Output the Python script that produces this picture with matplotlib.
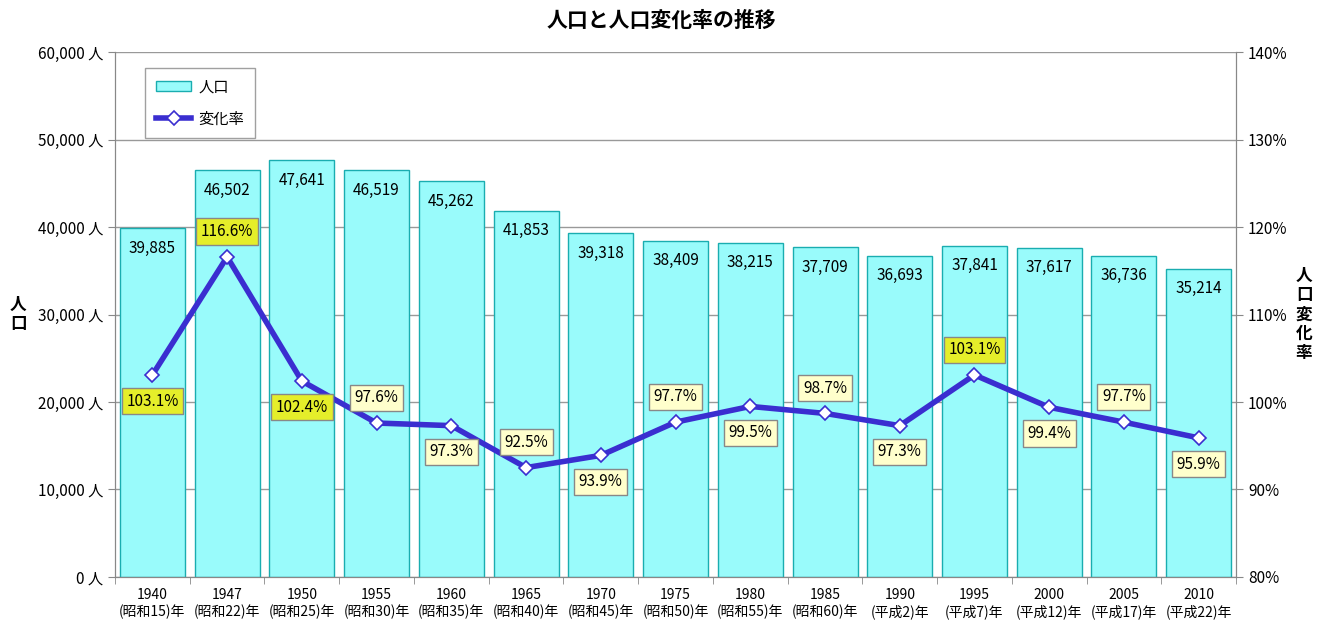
import matplotlib
matplotlib.use('Agg')
import matplotlib.pyplot as plt
import numpy as np

plt.rcParams['font.family'] = ['Noto Sans CJK JP', 'DejaVu Sans']

years = ['1940', '1947', '1950', '1955', '1960', '1965', '1970', '1975',
         '1980', '1985', '1990', '1995', '2000', '2005', '2010']
eras = ['(昭和15)年', '(昭和22)年', '(昭和25)年', '(昭和30)年', '(昭和35)年',
        '(昭和40)年', '(昭和45)年', '(昭和50)年', '(昭和55)年', '(昭和60)年',
        '(平成2)年', '(平成7)年', '(平成12)年', '(平成17)年', '(平成22)年']
population = [39885, 46502, 47641, 46519, 45262, 41853, 39318, 38409,
              38215, 37709, 36693, 37841, 37617, 36736, 35214]
rate = [103.1, 116.6, 102.4, 97.6, 97.3, 92.5, 93.9, 97.7,
        99.5, 98.7, 97.3, 103.1, 99.4, 97.7, 95.9]

x = np.arange(len(years))
fig = plt.figure(figsize=(13.22, 6.23), dpi=100)
ax = fig.add_axes([0.087, 0.074, 0.848, 0.842])
ax2 = ax.twinx()

bars = ax.bar(x, population, width=0.87, color='#99FBFB', edgecolor='#1AADB0',
              linewidth=1.0, label='人口', zorder=2)
ax.set_xlim(-0.5, len(years) - 0.5)
ax.set_ylim(0, 60000)
ax.set_yticks(np.arange(0, 60001, 10000))
ax.set_yticklabels([f'{v:,} 人' for v in range(0, 60001, 10000)], fontsize=11)
ax.yaxis.grid(True, color='#999999', linewidth=1.0, zorder=0)
ax.set_axisbelow(True)
ax.set_xticks(x)
ax.set_xticklabels([f'{y}\n{e}' for y, e in zip(years, eras)], fontsize=10)
ax.tick_params(axis='x', length=0, pad=8)
ax.set_xticks(np.arange(-0.5, len(years), 1), minor=True)
ax.tick_params(axis='x', which='minor', length=5, color='#888888', direction='out')
ax.tick_params(axis='y', length=5, color='#888888', direction='out')
for s in ['left', 'right', 'bottom', 'top']:
    ax.spines[s].set_color('#888888')
    ax2.spines[s].set_color('#888888')
ax.spines['top'].set_visible(False)
ax2.spines['top'].set_visible(False)
ax.set_ylabel('人\n口', rotation=0, fontsize=12, fontweight='bold',
              linespacing=1.1, labelpad=14, va='center')

for b, v in zip(bars, population):
    ax.text(b.get_x() + b.get_width() / 2, v - 1300, f'{v:,}', ha='center',
            va='top', fontsize=11, zorder=5)

ax2.plot(x, rate, color='#3A2ED0', linewidth=4, marker='D', markersize=7,
         markerfacecolor='white', markeredgecolor='#3A2ED0', markeredgewidth=1.2,
         label='変化率', zorder=4)
ax2.set_ylim(80, 140)
ax2.set_yticks(np.arange(80, 141, 10))
ax2.set_yticklabels([f'{v}%' for v in range(80, 141, 10)], fontsize=11)
ax2.tick_params(axis='y', length=5, color='#888888', direction='out')
ax2.set_ylabel('人\n口\n変\n化\n率', rotation=0, fontsize=12, fontweight='bold',
               linespacing=1.1, labelpad=12, va='center')

for i, r in enumerate(rate):
    face = '#E5EE2A' if r > 100 else '#FFFFCC'
    off = 2.9 if i % 2 == 1 else -3.0
    ax2.text(i, r + off, f'{r:.1f}%', ha='center', va='center', fontsize=11,
             zorder=6, bbox=dict(boxstyle='square,pad=0.3', facecolor=face,
                                 edgecolor='#888888', linewidth=1))

h1, l1 = ax.get_legend_handles_labels()
h2, l2 = ax2.get_legend_handles_labels()
leg = ax2.legend(h1 + h2, l1 + l2, loc='upper left', bbox_to_anchor=(0.027, 0.971),
                 borderaxespad=0, fontsize=11, frameon=True, fancybox=False,
                 edgecolor='#888888', labelspacing=1.0, borderpad=0.7,
                 handlelength=2.3, handletextpad=0.5)
leg.get_frame().set_linewidth(1)

fig.suptitle('人口と人口変化率の推移', fontsize=15, fontweight='bold', y=0.985)
fig.savefig('out.png', dpi=100)
